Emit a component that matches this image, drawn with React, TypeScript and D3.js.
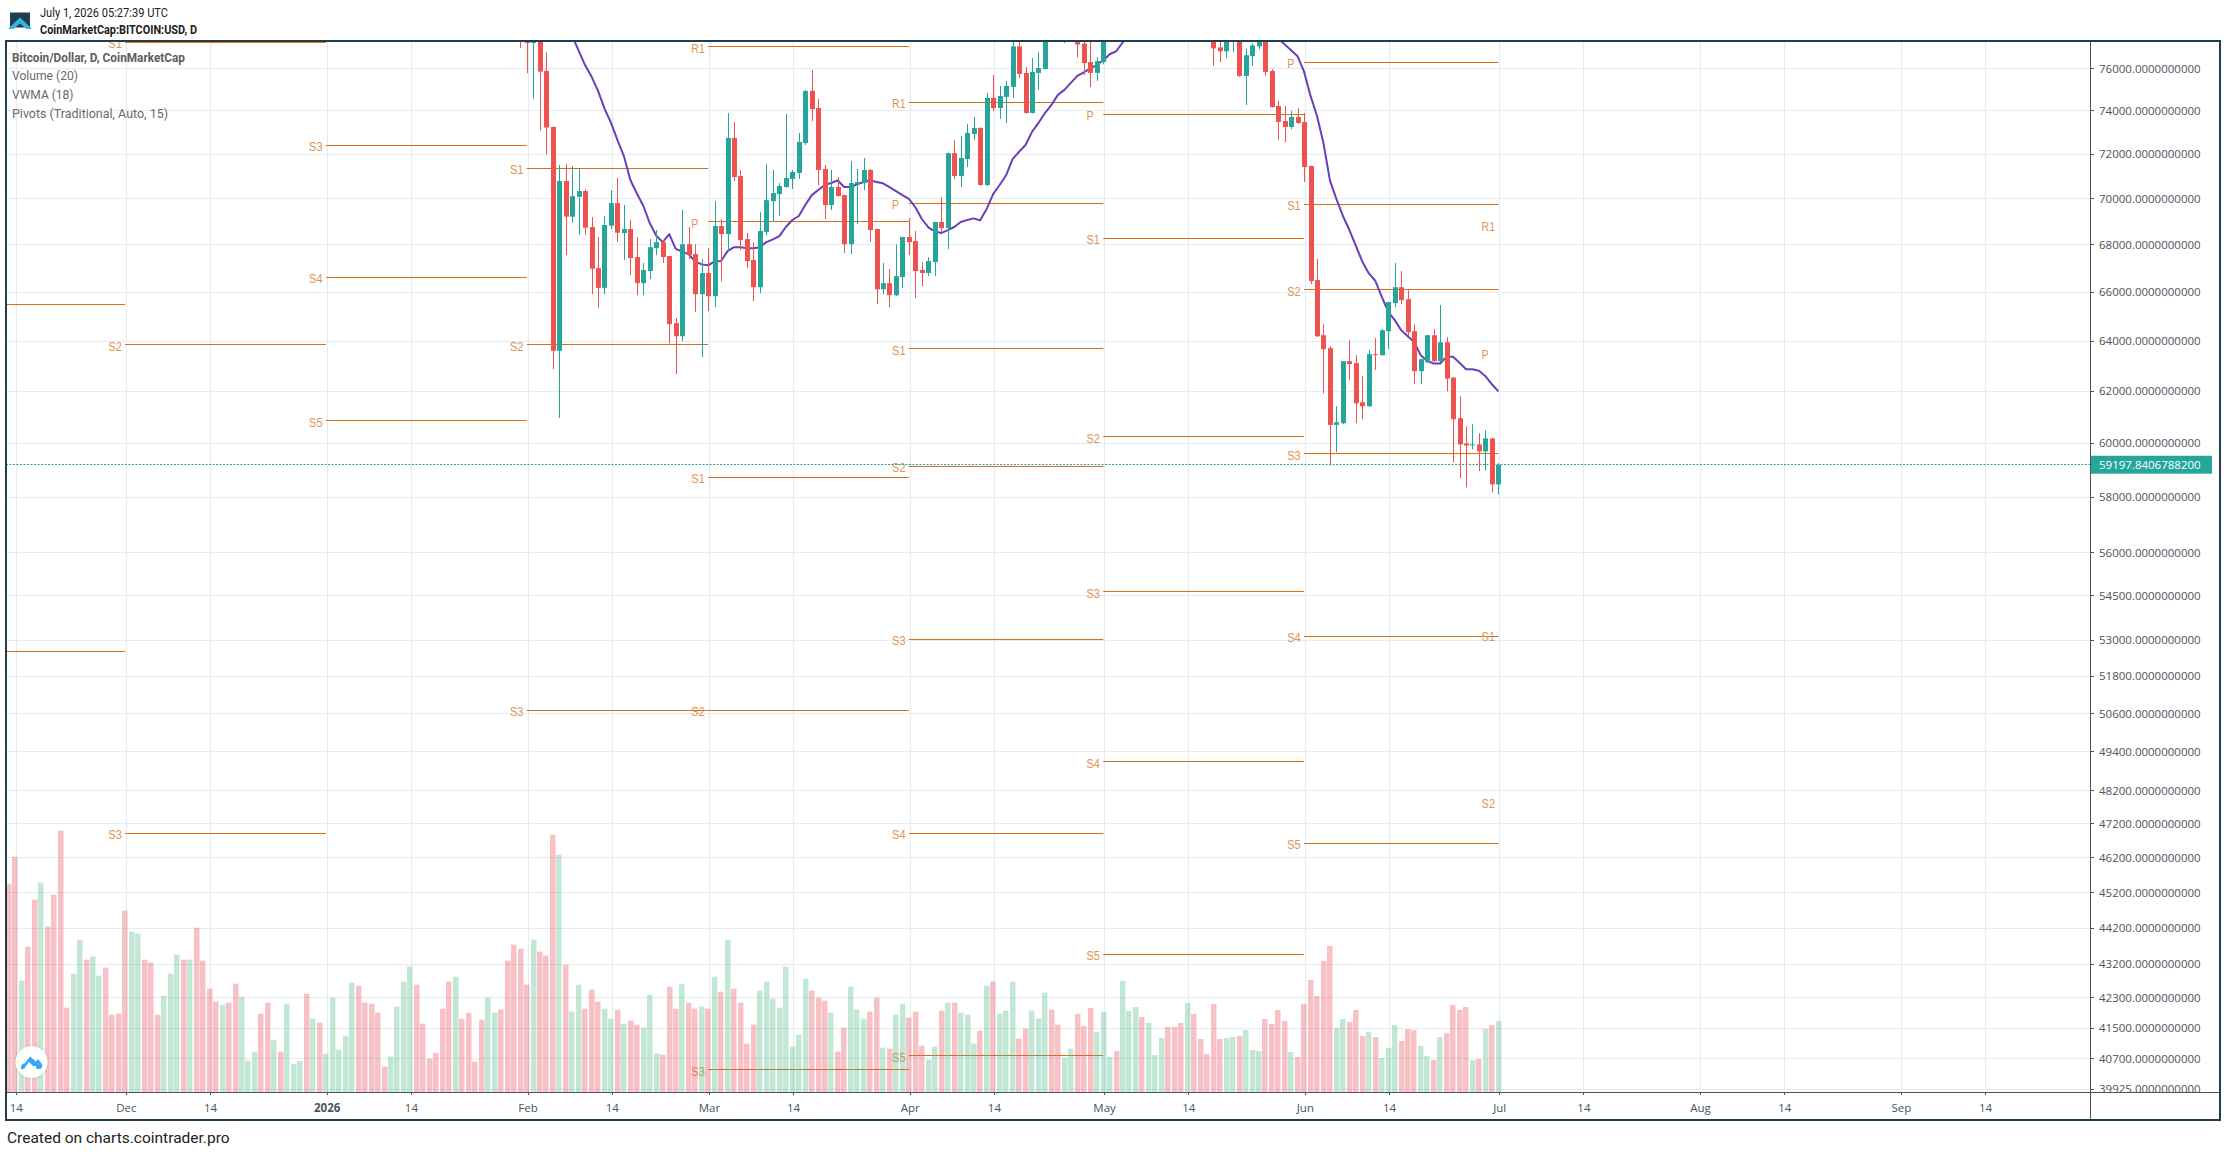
import React from "react";
import * as d3 from "d3";

// ---------- DATA ----------
const volumeStart = "2025-11-13";
const volumes = [
  625,706,334,436,577,628,496,592,784,253,355,457,397,406,349,373,232,235,
  544,481,475,397,388,232,289,355,412,397,397,493,394,310,271,262,268,325,286,94,121,235,268,157,121,265,85,94,295,220,208,
  115,283,127,169,328,319,268,265,238,76,106,256,331,376,322,205,100,118,250,331,346,220,238,91,217,283,238,247,394,442,430,
  322,457,421,409,772,712,382,241,322,250,307,271,250,220,247,205,214,202,193,292,115,112,316,250,325,268,250,256,
  250,346,301,457,310,268,145,202,304,331,280,253,376,136,172,340,304,283,274,238,121,193,316,247,220,241,283,133,130,232,265,
  223,241,139,97,136,244,268,268,238,232,145,184,319,331,235,244,331,160,190,244,220,298,247,202,103,130,235,198,252,180,
  240,105,123,333,243,255,225,207,111,162,195,195,207,267,234,159,114,264,159,162,165,168,186,126,123,219,204,246,213,120,105,
  264,336,288,393,438,192,219,210,246,168,180,165,102,132,201,153,189,186,138,108,96,165,177,261,246,255,96,99,189,201,
  213,
];
const volumeDirection = [
  "rrgrrgrrrrggrggrrr",
  "rggrrrgggrgrrrrgrrgggrrgrgggrgr",
  "gggggrrrrrggggrrrrrrgrrrrggrrrr",
  "rgrrrgrggrrrggrgrrgggrrrgrrg",
  "rgrgrrrrggggggggrrrgrrgggrrgrgg",
  "rrrggrgrgggrgrgggrrgggrrggrrrg",
  "ggrgggrgggrrrgrrrrrggrgggrrrrgr",
  "rrrrrggrrrgrgggrrrggrgrrrrgrgr",
  "g",
].join("");

const candleStart = "2026-01-31";
const opens = [
  78400,
  77900,77230,77700,75882,73250,63605,70796,69221,70094,70348,68771,67014,66182,68829,69816,68510,68684,67480,66379,66887,67860,68118,67522,64727,64194,68028,67607,65917,
  66803,65835,68814,68466,72744,71020,68249,67353,66210,68553,69903,70213,70527,70886,71155,72513,74934,74129,71334,69729,70527,70169,68028,70661,70706,71289,68684,66125,66379,65876,66633,
  68336,68162,66930,66803,67268,68989,68727,72050,71020,71781,72928,73205,70617,74603,74129,74650,75124,77067,75787,73896,75787,75976,77800,78200,78300,79000,78300,77200,76308,75787,
  76308,77700,78300,78000,79100,79900,80700,80200,80900,81100,81700,81300,80800,80300,81200,80400,79700,78100,77020,76830,77900,77700,75645,76593,77067,77450,75882,74224,73527,73250,73711,
  73481,71468,66507,64235,63711,60703,60767,63193,63114,61576,61422,63472,63434,64397,65548,66208,65712,64397,62796,63154,64235,63193,63950,62539,60960,59998,59935,59960,59700,60189,
  58469,
];
const closes = [
  77700,
  77230,77700,75850,73220,63605,70796,69221,70124,70348,68742,66986,66182,68858,69816,68524,68684,67437,66379,66930,67903,68118,67480,64686,64194,68028,67564,65917,66803,
  65835,68814,68466,72744,70975,68205,67311,66210,68597,69946,70258,70572,70930,71199,72559,74934,74082,71289,69729,70527,70124,68028,70706,70751,71289,68640,66125,66379,65876,66675,68336,
  68118,66887,66803,67311,68989,68727,72050,71020,71826,72974,73205,70617,74603,74129,74697,75171,77067,75739,73896,75834,76024,77700,78200,78900,78700,78300,77160,76260,75787,76355,
  77700,78300,78000,79100,79900,80700,80200,80900,81100,81700,81300,80800,80300,81200,80400,79700,78200,76972,76830,77500,78200,75645,76640,77114,77400,75834,74177,73481,73250,73711,73435,
  71423,66465,64194,63671,60703,60806,63193,63074,61538,61422,63472,63445,64438,65590,66208,65671,64356,62796,63273,64235,63193,63950,62501,60921,59960,59923,59960,59700,60189,58469,
  59197.84,
];
const highs = [
  78800,
  78600,78300,78000,76782,73280,71513,71558,71468,71334,70437,69206,68336,69250,70392,70930,69729,69076,68336,67226,68250,68640,68206,67540,64932,69514,68771,68028,67392,
  67860,69903,69120,73896,73481,71289,68510,68118,69424,71558,71289,70706,73850,71289,72973,74960,75929,74555,71513,71289,70975,70190,71692,71334,71826,71334,68700,67226,66972,68028,68350,
  69163,68597,67268,67480,69000,70080,72070,72636,72836,73389,73711,73230,74839,75692,75171,75408,77500,77500,76071,76498,76782,78000,78400,79200,79000,79400,79000,77900,77600,76545,
  78100,78800,78900,79600,80300,81200,81300,81400,81500,82200,82300,81800,81300,81700,81500,80700,80000,78000,77300,77800,78500,78000,76972,77209,77800,77900,75976,74460,74224,73988,74129,
  73896,71490,67395,64686,63790,61422,60790,64030,63434,62596,63631,64110,64480,65600,67226,66887,66082,64686,63290,64250,64480,65464,64153,62560,61807,60652,60729,60382,60498,60210,
  59253,
];
const lows = [
  76990,
  75770,74571,73081,71990,62876,60973,67564,68960,68437,68437,65917,65356,65917,68684,68118,67353,66718,65876,65876,66550,67564,67226,63910,62677,63990,67400,65178,63353,
  65220,65384,66450,67734,70796,67776,67014,65630,65958,68422,68989,69250,70500,70437,70886,72421,73527,70617,69119,69511,70100,67650,67607,68903,70392,68118,65506,65917,65384,65835,66168,
  67564,65752,66253,66676,66676,68553,67820,70886,70527,71423,72652,70590,70570,73988,73619,73435,74603,75550,73870,73870,74982,75950,77500,77600,77230,77600,76530,75692,75124,75408,
  76200,77500,77600,77800,78800,79500,79800,79900,80600,80800,80900,80300,79900,80000,80000,79400,77800,76119,76308,76498,76782,75597,74271,76119,76924,75645,74150,72652,72559,73143,73389,
  70751,66338,64170,61923,59166,59663,60729,62437,60767,60921,61400,62836,63410,63671,65384,65506,64194,62278,62278,63114,63170,63170,62000,59289,58693,58357,59771,58955,58992,58170,
  58100,
];

const vwmaStart = "2026-02-07";
const vwma = [
  78300,77590,76877,76166,75613,74950,74113,73450,72651,71916,70840,70242,69700,68931,68394,68118,68466,67832,67719,67592,67297,67170,
  67128,67297,67311,67733,67903,67903,67860,67860,67903,68118,68234,68379,68771,69076,69250,69729,70169,70392,70617,70706,70826,70527,70527,70647,70751,70826,70751,70692,70527,70348,70169,
  70004,69634,69119,68757,68582,68510,68640,68771,68989,69076,69148,69061,69555,70213,70617,71050,71782,72114,72421,73021,73435,73896,74271,74745,74982,75313,75645,75818,76008,76166,
  76400,76687,76830,77256,77650,77950,78200,78400,78500,78600,78700,78800,78900,79000,79100,79200,79250,79250,79200,79100,79000,78800,78600,78400,78100,77900,77700,77450,77165,76877,76593,
  75850,74697,73760,72498,70811,69990,69250,68640,67958,67283,66789,66479,65807,65192,64850,64438,64194,63963,63434,63207,63100,63100,63366,63366,63127,62875,62875,62809,62597,62278,
  62000,
];

const pivotPeriods = ["2025-11-01","2025-12-01","2026-01-01","2026-02-01","2026-03-01","2026-04-01","2026-05-01","2026-06-01","2026-07-01"];
// period start index, label, level
const pivotIndex = [0,0, 1,1,1, 2,2,2, 3,3,3, 4,4,4,4,4, 5,5,5,5,5,5,5, 6,6,6,6,6,6, 7,7,7,7,7,7, 8,8,8,8];
const pivotLabels = ["","", "S1","S2","S3", "S3","S4","S5", "S1","S2","S3", "R1","P","S1","S2","S3", "R1","P","S1","S2","S3","S4","S5", "P","S1","S2","S3","S4","S5", "P","S1","S2","S3","S4","S5", "R1","P","S1","S2"];
const pivotLevels = [65494,52630, 77270,63857,46920, 72406,66620,60870, 71364,63857,50710, 77051,69003,58732,50710,40425, 74397,69801,63698,59141,53030,46920,40785, 73834,68278,60247,54640,49085,43470, 76292,69760,66112,59613,53130,46630, 68858,63532,53155,47860];

const priceTicks = [76000,74000,72000,70000,68000,66000,64000,62000,60000,58000,56000,54500,53000,51800,50600,49400,48200,47200,46200,45200,44200,43200,42300,41500,40700,39925];
const lastPrice = 59197.8406788200;

const timeTickDates = ["2025-11-14","2025-12-01","2025-12-14","2026-01-01","2026-01-14","2026-02-01","2026-02-14","2026-03-01","2026-03-14","2026-04-01","2026-04-14","2026-05-01","2026-05-14","2026-06-01","2026-06-14","2026-07-01","2026-07-14","2026-08-01","2026-08-14","2026-09-01","2026-09-14"];
const timeTickLabels = ["14","Dec","14","2026","14","Feb","14","Mar","14","Apr","14","May","14","Jun","14","Jul","14","Aug","14","Sep","14"];

const legendLines = ["Bitcoin/Dollar, D, CoinMarketCap","Volume (20)","VWMA (18)","Pivots (Traditional, Auto, 15)"];
const legendWidths = [173, 66, 61.5, 156];
const legendBaselines = [61.5, 79.5, 98.5, 117.5];

// ---------- STYLE / LAYOUT ----------
const W = 2226, H = 1152;
const frame = { l: 6, t: 41, r: 2220, b: 1120 };
const axisX = 2090, axisY = 1092;
const UP = "#26a69a", DOWN = "#ef5350";
const GRID = "#e4ecf2", AXIS = "#50535e", FRAME = "#1f3f50", PIVOT = "#db6f12", PIVOT_TEXT = "#e2924f";
const AXIS_FONT = "'Open Sans', 'Noto Sans', sans-serif";
const BAR_SHIFT = -1.3;

const parse = (s: string) => new Date(s + "T00:00:00Z");
const snap = (v: number) => Math.floor(v) + 0.5;
const x = d3.scaleUtc().domain([parse("2025-12-01"), parse("2026-07-01")]).range([126.4, 1499.7]);
const y = d3.scaleLog().domain([76000, 39925]).range([68.5, 1089.4]);
const yVol = d3.scaleLinear().domain([0, 900]).range([axisY, axisY - 300]);

const barX = (start: string, i: number) => x(d3.utcDay.offset(parse(start), i)) + BAR_SHIFT;

const vwmaLine = d3
  .line<number>()
  .x((_, i) => barX(vwmaStart, i))
  .y((v) => y(v))
  .curve(d3.curveLinear);

export default function App() {
  return (
    <svg
      width={W}
      height={H}
      viewBox={`0 0 ${W} ${H}`}
      style={{ position: "absolute", left: 0, top: 0, background: "#fff", display: "block" }}
    >
      <defs>
        <clipPath id="pane">
          <rect x={frame.l + 1} y={frame.t + 1} width={axisX - frame.l - 1} height={axisY - frame.t - 1} />
        </clipPath>
        <clipPath id="priceLabels">
          <rect x={axisX} y={frame.t} width={frame.r - axisX} height={axisY - frame.t} />
        </clipPath>
        <filter id="iconShadow" x="-30%" y="-30%" width="160%" height="160%">
          <feDropShadow dx="0" dy="0" stdDeviation="1" floodColor="#000" floodOpacity="0.2" />
        </filter>
      </defs>

      {/* header */}
      <g>
        <rect x={10} y={12.5} width={20} height={15} fill={FRAME} />
        <path d="M8 29 L20 17.5 L32 29 L26.5 29 L20 23.5 L13.5 29 Z" fill="#35b6de" />
        <text x={40} y={17} fontFamily="Roboto" fontSize={12.5} fill="#222" textLength={128} lengthAdjust="spacingAndGlyphs">July 1, 2026 05:27:39 UTC</text>
        <text x={40} y={34} fontFamily="Roboto" fontWeight={700} fontSize={12.5} fill="#222" textLength={157} lengthAdjust="spacingAndGlyphs">CoinMarketCap:BITCOIN:USD, D</text>
      </g>

      {/* pane */}
      <g clipPath="url(#pane)">
        {priceTicks.map((p) => (
          <line key={p} x1={frame.l} x2={axisX} y1={snap(y(p))} y2={snap(y(p))} stroke={GRID} strokeWidth={1.2} />
        ))}
        {timeTickDates.map((d) => (
          <line key={d} x1={snap(x(parse(d)))} x2={snap(x(parse(d)))} y1={frame.t} y2={axisY} stroke={GRID} strokeWidth={1.2} />
        ))}

        {/* pivots */}
        {pivotLevels.map((lvl, i) => {
          const start = x(parse(pivotPeriods[pivotIndex[i]])) + BAR_SHIFT;
          const next = pivotPeriods[pivotIndex[i] + 1];
          const end = next ? x(parse(next)) + BAR_SHIFT : start;
          return (
            <g key={i}>
              {next && <line x1={start} x2={end} y1={snap(y(lvl))} y2={snap(y(lvl))} stroke={PIVOT} strokeWidth={1.2} />}
              {pivotLabels[i] && (
                <text
                  x={start - 16.8}
                  y={y(lvl) + 6}
                  fontFamily="'Liberation Sans', Arial, sans-serif"
                  fontSize={12.5}
                  fill={PIVOT_TEXT}
                  textLength={pivotLabels[i] === "P" ? 7 : 13.5}
                  lengthAdjust="spacingAndGlyphs"
                >
                  {pivotLabels[i]}
                </text>
              )}
            </g>
          );
        })}

        {/* volume */}
        {volumes.map((v, i) => {
          const bx = barX(volumeStart, i);
          return (
            <rect
              key={i}
              x={Math.round(bx - 2.7)}
              width={5.5}
              y={yVol(v)}
              height={axisY - yVol(v)}
              fill={volumeDirection[i] === "g" ? "#53b987" : "#eb4d5c"}
              fillOpacity={0.35}
            />
          );
        })}

        {/* last price line */}
        <line x1={frame.l} x2={axisX} y1={snap(y(lastPrice))} y2={snap(y(lastPrice))} stroke={UP} strokeWidth={1} strokeDasharray="2 1.5" />

        {/* VWMA */}
        <path d={vwmaLine(vwma) ?? ""} fill="none" stroke="#6a3fb8" strokeWidth={2} strokeLinejoin="round" />

        {/* candles */}
        {opens.map((o, i) => {
          const c = closes[i];
          const col = c >= o ? UP : DOWN;
          const cx = Math.round(barX(candleStart, i));
          const top = y(Math.max(o, c));
          const bot = y(Math.min(o, c));
          return (
            <g key={i}>
              <line x1={cx + 0.5} x2={cx + 0.5} y1={y(highs[i])} y2={y(lows[i])} stroke={col} strokeWidth={1} />
              <rect x={cx - 2} y={top} width={5} height={Math.max(bot - top, 1)} fill={col} />
            </g>
          );
        })}

        {/* legend */}
        {legendLines.map((t, i) => (
          <text
            key={t}
            x={12}
            y={legendBaselines[i]}
            fontFamily="Roboto"
            fontSize={13.5}
            fontWeight={i === 0 ? 700 : 400}
            fill={i === 0 ? "#5e5e5e" : "#6a6a6a"}
            textLength={legendWidths[i]}
            lengthAdjust="spacingAndGlyphs"
          >
            {t}
          </text>
        ))}

        {/* corner icon */}
        <g filter="url(#iconShadow)">
          <circle cx={31.5} cy={1062} r={16} fill="#fff" />
        </g>
        <path
          d="M21 1069 Q20.5 1064 25 1063 L30 1056.5 L36 1061.5 L38 1059 L42 1064 Q43 1069 39 1069 L36.5 1069 L36 1066 L33 1066 L29 1062 L26 1066 L24 1069 Z"
          fill="#39a8f2"
        />
      </g>

      {/* price axis */}
      <g clipPath="url(#priceLabels)">
        {priceTicks.map((p) => (
          <g key={p}>
            <line x1={axisX} x2={axisX + 4} y1={snap(y(p))} y2={snap(y(p))} stroke={AXIS} />
            <text x={axisX + 9} y={y(p) + 4} fontFamily={AXIS_FONT} fontSize={11.5} fill="#4c525e">
              {p.toFixed(10)}
            </text>
          </g>
        ))}
      </g>
      <rect x={axisX} y={y(lastPrice) - 9} width={122} height={18} fill={UP} />
      <text x={axisX + 9} y={y(lastPrice) + 4} fontFamily={AXIS_FONT} fontSize={11.5} fill="#fff">
        {lastPrice.toFixed(10)}
      </text>

      {/* time axis */}
      {timeTickDates.map((d, i) => (
        <g key={d}>
          <line x1={snap(x(parse(d)))} x2={snap(x(parse(d)))} y1={axisY} y2={axisY + 3} stroke={AXIS} />
          <text
            x={x(parse(d))}
            y={axisY + 20}
            textAnchor="middle"
            fontFamily={AXIS_FONT}
            fontSize={11.5}
            fontWeight={timeTickLabels[i] === "2026" ? 700 : 400}
            fill="#4c525e"
          >
            {timeTickLabels[i]}
          </text>
        </g>
      ))}
      <line x1={frame.l} x2={frame.r} y1={axisY + 0.5} y2={axisY + 0.5} stroke={AXIS} strokeWidth={1} />
      <line x1={axisX + 0.5} x2={axisX + 0.5} y1={frame.t} y2={frame.b} stroke={AXIS} strokeWidth={1} />

      {/* frame */}
      <rect x={frame.l} y={frame.t} width={frame.r - frame.l} height={frame.b - frame.t} fill="none" stroke={FRAME} strokeWidth={2} />

      {/* footer */}
      <text x={7} y={1143} fontFamily="Roboto" fontSize={15.5} fill="#222">Created on charts.cointrader.pro</text>
    </svg>
  );
}
